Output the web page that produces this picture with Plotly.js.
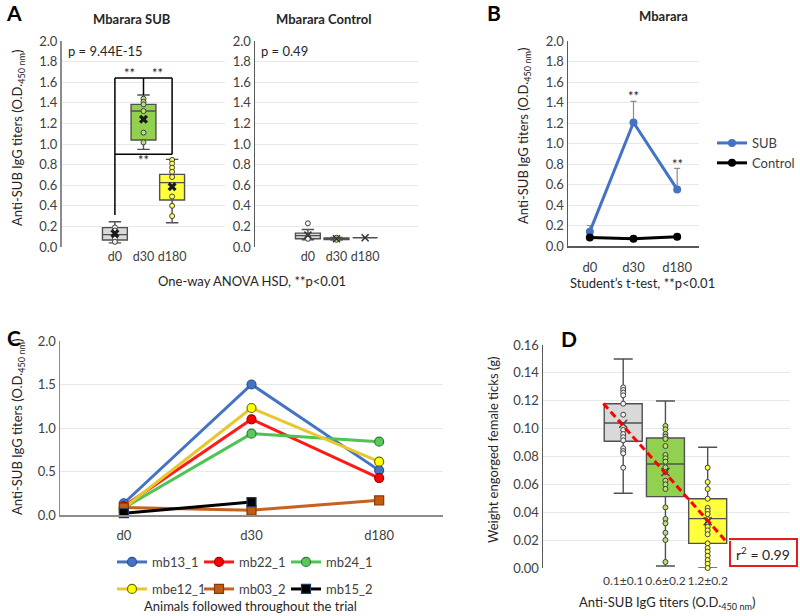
<!DOCTYPE html>
<html>
<head>
<meta charset="utf-8">
<script src="https://cdn.plot.ly/plotly-3.0.1.min.js"></script>
<style>
  html, body { margin: 0; padding: 0; background: #ffffff; }
  #chart { width: 800px; height: 616px; }
</style>
</head>
<body>
<div id="chart"></div>
<script>
const days = ['d0', 'd30', 'd180'];

// Panel A - Mbarara SUB (box stats per day)
const subQ1 = [0.068, 1.039, 0.456];
const subMedian = [0.12, 1.32, 0.625];
const subQ3 = [0.188, 1.385, 0.705];
const subLow = [0.04, 0.948, 0.236];
const subHigh = [0.245, 1.476, 0.851];
const subMean = [0.13, 1.24, 0.586];
const subPoints = [
  [0.19, 0.16, 0.11, 0.08, 0.05],
  [1.44, 1.41, 1.385, 1.32, 1.11, 1.016],
  [0.845, 0.81, 0.77, 0.73, 0.68, 0.49, 0.40, 0.30],
];

// Panel A - Mbarara Control
const ctlQ1 = [0.08, 0.072, 0.09];
const ctlMedian = [0.11, 0.08, 0.09];
const ctlQ3 = [0.135, 0.088, 0.09];
const ctlLow = [0.07, 0.068, 0.09];
const ctlHigh = [0.17, 0.092, 0.09];
const ctlMean = [0.115, 0.08, 0.09];
const ctlPoints = [
  [0.23, 0.10, 0.08],
  [0.09, 0.07],
  [],
];

// significance bracket levels in panel A
const bracketTop = 1.64;
const bracketLow = 0.9;
const bracketStart = 0.31;
const starsTop = 1.69;
const starsLow = 0.84;

// Panel B - means per day
const bSub = [0.14, 1.205, 0.552];
const bSubErr = [0.06, 0.205, 0.205];
const bControl = [0.084, 0.071, 0.091];
const bStars = [null, 1.46, 0.80];

// Panel C - individual animals
const animals = ['mb13_1', 'mb22_1', 'mb24_1', 'mbe12_1', 'mb03_2', 'mb15_2'];
const animalValues = [
  [0.135, 1.50, 0.513],
  [0.10, 1.10, 0.425],
  [0.08, 0.935, 0.843],
  [0.08, 1.23, 0.613],
  [0.085, 0.054, 0.169],
  [0.02, 0.149, null],
];
const animalLine = ['#4472C4', '#FF1A1A', '#4EC553', '#E8C62E', '#C6621F', '#000000'];
const animalFill = ['#4472C4', '#FF0000', '#5BC85B', '#FFFF00', '#C55A11', '#000000'];
const animalEdge = ['#2F528F', '#A00000', '#2E7D32', '#6B6B00', '#843C0C', '#203864'];
const animalSymbol = ['circle', 'circle', 'circle', 'circle', 'square', 'square'];

// Panel D - tick weight per titer group
const dCats = ['0.1±0.1', '0.6±0.2', '1.2±0.2'];
const dQ1 = [0.0909, 0.0512, 0.0177];
const dMedian = [0.104, 0.0746, 0.0354];
const dQ3 = [0.1179, 0.0933, 0.0497];
const dLow = [0.0536, 0.0014, 0.0];
const dHigh = [0.150, 0.1198, 0.0866];
const dMean = [0.1035, 0.0689, 0.0335];
const dPoints = [
  [0.1296, 0.1277, 0.1258, 0.1239, 0.1179, 0.110, 0.099, 0.0961, 0.0938, 0.0916, 0.0859, 0.0839, 0.0823, 0.072],
  [0.1019, 0.0995, 0.0961, 0.0942, 0.0926, 0.0875, 0.0811, 0.0787, 0.0763, 0.0722, 0.0689, 0.0626, 0.060, 0.0567, 0.0435, 0.0352, 0.032, 0.0253, 0.0201, 0.0043],
  [0.072, 0.0617, 0.0567, 0.0497, 0.0431, 0.041, 0.0387, 0.035, 0.032, 0.0295, 0.027, 0.0242, 0.0177, 0.0143, 0.0117, 0.0088, 0.0057, 0.003, 0.0],
];
const trendX = [-0.47, 2.47];
const trendY = [0.118, 0.018];

const boxFill = ['#D9D9D9', '#92D050', '#FFFF3C'];
const pointFill = ['#F2F2F2', '#B9E36E', '#FFFF60'];
const font = 'Lato, "Open Sans", sans-serif';
const textColor = '#404040';

function px(x) { return x / 800; }
function py(y) { return 1 - y / 616; }

const traces = [];

function addBoxes(q1, median, q3, low, high, mean, points, xaxis, yaxis, width, meanStyle) {
  for (let i = 0; i < q1.length; i++) {
    traces.push({
      type: 'box',
      orientation: 'v',
      x: [i],
      q1: [q1[i]],
      median: [median[i]],
      q3: [q3[i]],
      lowerfence: [low[i]],
      upperfence: [high[i]],
      width,
      whiskerwidth: 0.5,
      fillcolor: boxFill[i],
      line: { color: '#505050', width: 1.4 },
      boxpoints: false,
      xaxis,
      yaxis,
      showlegend: false,
      hoverinfo: 'skip',
    });

    traces.push({
      type: 'scatter',
      mode: 'markers',
      x: points[i].map(() => i),
      y: points[i],
      marker: { symbol: 'circle', size: 5, color: pointFill[i], line: { color: '#404040', width: 1 } },
      xaxis,
      yaxis,
      cliponaxis: false,
      showlegend: false,
      hoverinfo: 'skip',
    });

    traces.push({
      type: 'scatter',
      mode: 'markers',
      x: [i],
      y: [mean[i]],
      marker: meanStyle,
      xaxis,
      yaxis,
      showlegend: false,
      hoverinfo: 'skip',
    });
  }
}

const boldX = { symbol: 'x', size: 8, color: '#1a1a1a', line: { width: 0 } };
addBoxes(subQ1, subMedian, subQ3, subLow, subHigh, subMean, subPoints, 'x', 'y', 0.87, boldX);
addBoxes(ctlQ1, ctlMedian, ctlQ3, ctlLow, ctlHigh, ctlMean, ctlPoints, 'x2', 'y2', 0.87,
  { symbol: 'x-thin-open', size: 7, color: '#333333', line: { width: 1.5, color: '#333333' } });

// Panel B
traces.push({
  type: 'scatter',
  mode: 'lines+markers',
  name: 'SUB',
  x: [0, 1, 2],
  y: bSub,
  line: { color: '#4472C4', width: 3 },
  marker: { size: 8, color: '#4472C4' },
  error_y: { type: 'data', symmetric: false, array: bSubErr, arrayminus: [0, 0, 0], color: '#8C8C8C', thickness: 1.2, width: 3 },
  xaxis: 'x3',
  yaxis: 'y3',
  legend: 'legend',
  hoverinfo: 'skip',
});
traces.push({
  type: 'scatter',
  mode: 'lines+markers',
  name: 'Control',
  x: [0, 1, 2],
  y: bControl,
  line: { color: '#000000', width: 3 },
  marker: { size: 8, color: '#000000' },
  xaxis: 'x3',
  yaxis: 'y3',
  legend: 'legend',
  hoverinfo: 'skip',
});

// Panel C
animals.forEach((name, i) => {
  traces.push({
    type: 'scatter',
    mode: 'lines+markers',
    name,
    x: [0, 1, 2],
    y: animalValues[i],
    line: { color: animalLine[i], width: 3 },
    marker: { symbol: animalSymbol[i], size: 9, color: animalFill[i], line: { color: animalEdge[i], width: 1.2 } },
    xaxis: 'x4',
    yaxis: 'y4',
    cliponaxis: false,
    legend: i < 3 ? 'legend2' : 'legend3',
    hoverinfo: 'skip',
  });
});

// Panel D
addBoxes(dQ1, dMedian, dQ3, dLow, dHigh, dMean, dPoints, 'x5', 'y5', 0.9,
  { symbol: 'x-thin-open', size: 8, color: '#404040', line: { width: 1.4, color: '#404040' } });
traces.push({
  type: 'scatter',
  mode: 'lines',
  x: trendX,
  y: trendY,
  line: { color: '#FF0000', width: 3, dash: '7px,4px' },
  xaxis: 'x5',
  yaxis: 'y5',
  showlegend: false,
  hoverinfo: 'skip',
});

const tickFont = { family: font, size: 13, color: textColor };
const smallTickFont = { family: font, size: 12.5, color: textColor };
const dTickFont = { family: font, size: 12, color: textColor };
const gridColor = '#E8E8E8';

function catAxis(domain, range, anchor, ticktext, extra) {
  return Object.assign({
    domain,
    range,
    anchor,
    tickmode: 'array',
    tickvals: ticktext.map((_, i) => i),
    ticktext,
    tickangle: 0,
    showgrid: false,
    zeroline: false,
    showline: false,
    ticks: '',
    tickfont: tickFont,
    fixedrange: true,
  }, extra || {});
}

function valAxis(domain, range, anchor, dtick, format, extra) {
  return Object.assign({
    domain,
    range,
    anchor,
    dtick,
    tick0: 0,
    tickformat: format,
    showgrid: true,
    gridcolor: gridColor,
    gridwidth: 1,
    zeroline: false,
    showline: true,
    linecolor: '#8C8C8C',
    linewidth: 1.5,
    ticks: '',
    tickfont: tickFont,
    fixedrange: true,
  }, extra || {});
}

const yTitle = 'Anti-SUB IgG titers (O.D.<sub>450 nm</sub>)';

function note(text, x, y, opts) {
  return Object.assign({
    text,
    x: px(x),
    y: py(y),
    xref: 'paper',
    yref: 'paper',
    xanchor: 'center',
    yanchor: 'middle',
    showarrow: false,
    font: { family: font, size: 13, color: '#262626' },
  }, opts || {});
}

function stars(x, y, xref, yref) {
  return { text: '**', x, y, xref, yref, xanchor: 'center', yanchor: 'middle', showarrow: false, font: { family: font, size: 13, color: '#262626' } };
}

function line(x0, y0, x1, y1) {
  return { type: 'line', xref: 'x', yref: 'y', x0, y0, x1, y1, line: { color: '#000000', width: 1.5 } };
}

const letterFont = { family: font, size: 21, color: '#000000' };

const annotations = [
  note('<b>A</b>', 14, 13, { font: letterFont }),
  note('<b>B</b>', 494, 13, { font: letterFont }),
  note('<b>C</b>', 14, 337, { font: letterFont }),
  note('<b>D</b>', 569, 338, { font: letterFont }),
  note('<b>Mbarara SUB</b>', 132, 19),
  note('<b>Mbarara Control</b>', 323, 19),
  note('<b>Mbarara</b>', 663, 16),
  note('p = 9.44E-15', 66, 51, { xanchor: 'left' }),
  note('p = 0.49', 259, 51, { xanchor: 'left' }),
  note('One-way ANOVA HSD, **p<0.01', 252, 281),
  note(yTitle, 18, 138, { textangle: -90 }),
  note(yTitle, 524, 136, { textangle: -90 }),
  note('Student\u2019s t-test, **p<0.01', 642, 283),
  note(yTitle, 18, 427, { textangle: -90 }),
  note('Animals followed throughout the trial', 250, 606),
  note('Weight engorged female ticks (g)', 493, 450, { textangle: -90 }),
  note('Anti-SUB IgG titers (O.D.<sub>450 nm</sub>)', 667, 603),
  note('r<sup>2</sup> = 0.99', 763, 553, { font: { family: font, size: 14, color: '#262626' } }),
  stars(0.5, starsTop, 'x', 'y'),
  stars(1.5, starsTop, 'x', 'y'),
  stars(1, starsLow, 'x', 'y'),
];

bStars.forEach((value, i) => {
  if (value !== null) {
    annotations.push(stars(i, value, 'x3', 'y3'));
  }
});

const shapes = [
  line(0, bracketStart, 0, bracketTop),
  line(0, bracketTop, 2, bracketTop),
  line(1, bracketTop, 1, subHigh[1]),
  line(2, bracketTop, 2, bracketLow),
  line(0, bracketLow, 2, bracketLow),
  {
    type: 'rect', xref: 'paper', yref: 'paper',
    x0: px(730), x1: px(797), y0: py(566), y1: py(539),
    line: { color: '#E02020', width: 2 }, fillcolor: '#ffffff', layer: 'below',
  },
];

const legendBase = {
  bgcolor: 'rgba(0,0,0,0)',
  font: { family: font, size: 13, color: textColor },
  xanchor: 'left',
  yanchor: 'top',
  tracegroupgap: 0,
  itemclick: false,
  itemdoubleclick: false,
};

const layout = {
  width: 800,
  height: 616,
  margin: { l: 0, r: 0, t: 0, b: 0 },
  paper_bgcolor: '#ffffff',
  plot_bgcolor: 'rgba(0,0,0,0)',
  font: { family: font, color: textColor },
  showlegend: true,
  xaxis: catAxis([px(62), px(225)], [-1.85, 3.85], 'y', days, { tickfont: smallTickFont }),
  yaxis: valAxis([py(247), py(41)], [0, 2], 'x', 0.2, '.1f', { linecolor: '#8C8C8C', linewidth: 2 }),
  xaxis2: catAxis([px(255), px(418)], [-1.85, 3.85], 'y2', days, { tickfont: smallTickFont }),
  yaxis2: valAxis([py(247), py(41)], [0, 2], 'x2', 0.2, '.1f', { linecolor: '#595959', linewidth: 1.5 }),
  xaxis3: catAxis([px(568), px(699)], [-0.5, 2.5], 'y3', days, { showline: true, linecolor: '#595959', linewidth: 1.5, ticklabelstandoff: 9 }),
  yaxis3: valAxis([py(246), py(41)], [0, 2], 'x3', 0.2, '.1f', { linecolor: '#595959' }),
  xaxis4: catAxis([px(60), px(443)], [-0.5, 2.5], 'y4', days, { showline: true, linecolor: '#8C8C8C', linewidth: 1.5, ticklabelstandoff: 8 }),
  yaxis4: valAxis([py(515), py(341)], [0, 2], 'x4', 0.5, '.1f', { linecolor: '#8C8C8C' }),
  xaxis5: catAxis([px(543), px(790)], [-1.9, 3.95], 'y5', dCats, { ticklabelstandoff: 4, tickfont: dTickFont }),
  yaxis5: valAxis([py(568), py(345)], [0, 0.16], 'x5', 0.02, '.2f', { linecolor: '#595959' }),
  legend: Object.assign({}, legendBase, { x: px(712), y: py(128) }),
  legend2: Object.assign({}, legendBase, { orientation: 'h', x: px(112), y: py(562), yanchor: 'middle', entrywidth: 42, entrywidthmode: 'pixels' }),
  legend3: Object.assign({}, legendBase, { orientation: 'h', x: px(112), y: py(589), yanchor: 'middle', entrywidth: 42, entrywidthmode: 'pixels' }),
  annotations,
  shapes,
};

Plotly.newPlot('chart', traces, layout, { displayModeBar: false, staticPlot: true });
</script>
</body>
</html>
